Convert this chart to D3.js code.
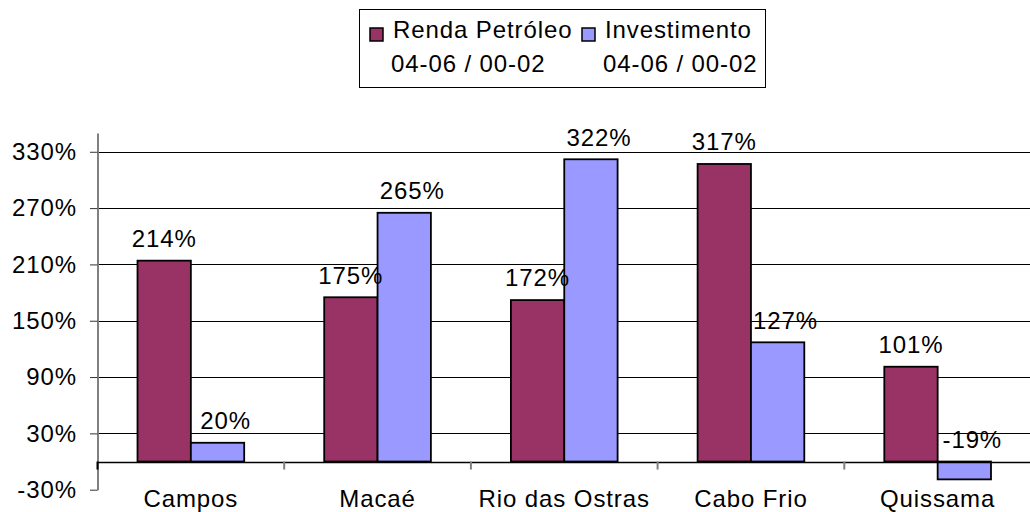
<!DOCTYPE html>
<html>
<head>
<meta charset="utf-8">
<script src="https://cdn.jsdelivr.net/npm/d3@7"></script>
<style>
  body { margin: 0; background: #fff; }
  svg { display: block; font-family: "Liberation Sans", Arial, sans-serif; }
  text { font-size: 24px; fill: #000; letter-spacing: 0.9px; }
</style>
</head>
<body>
<svg width="1030" height="512"></svg>
<script>
let cidades = ["Campos", "Macaé", "Rio das Ostras", "Cabo Frio", "Quissama"];
let rendaPetroleo = [214, 175, 172, 317, 101];
let investimento = [20, 265, 322, 127, -19];
let series = ["Renda Petróleo", "Investimento"];
let periodo = "04-06 / 00-02";
let yTicks = [-30, 30, 90, 150, 210, 270, 330];

let cores = ["#993366", "#9999FF"];

let svg = d3.select('svg');

let x = d3.scaleBand().domain(cidades).range([97.5, 1031]);
let y = d3.scaleLinear().domain([-30, 350]).range([489.7, 133]);

// bars: two per band, gap = 1.5 bar widths
let barW = x.bandwidth() / 3.5;
let xs = d3.scaleBand().domain([0, 1]).range([barW * 0.75, barW * 2.75]);

// gridlines
svg.append('g')
  .selectAll('line')
  .data(yTicks.filter(d => d > 0))
  .enter()
  .append('line')
  .attr('x1', 97.5)
  .attr('x2', 1030)
  .attr('y1', d => Math.round(y(d)) + 0.5)
  .attr('y2', d => Math.round(y(d)) + 0.5)
  .attr('stroke', '#000')
  .attr('stroke-width', 1);

// y axis
let yAxis = svg.append('g')
  .attr('transform', 'translate(97.5,0)')
  .call(d3.axisLeft(y).tickValues(yTicks).tickSize(7.5).tickSizeOuter(0).tickPadding(13).tickFormat(d => d + '%'));
yAxis.select('.domain').attr('stroke', '#808080').attr('stroke-width', 2);
yAxis.selectAll('.tick line').attr('stroke', '#333');
yAxis.selectAll('text').style('font-size', '24px').attr('fill', '#000');

let dados = cidades.map((c, i) => ({ cidade: c, valores: [rendaPetroleo[i], investimento[i]] }));

let grupos = svg.append('g')
  .selectAll('g')
  .data(dados)
  .enter()
  .append('g')
  .attr('transform', d => 'translate(' + x(d.cidade) + ',0)');

grupos.selectAll('rect')
  .data(d => d.valores)
  .enter()
  .append('rect')
  .attr('x', (d, i) => xs(i))
  .attr('width', xs.bandwidth())
  .attr('y', d => y(Math.max(0, d)))
  .attr('height', d => Math.abs(y(d) - y(0)))
  .attr('fill', (d, i) => cores[i])
  .attr('stroke', '#000')
  .attr('stroke-width', 1.8);

grupos.selectAll('text')
  .data(d => d.valores)
  .enter()
  .append('text')
  .attr('x', (d, i) => xs(i) + xs.bandwidth() / 2 + (i === 1 ? 8 : 0))
  .attr('y', d => y(Math.max(0, d)) - 22)
  .attr('dy', '0.35em')
  .attr('text-anchor', 'middle')
  .text(d => d + '%');

// category (zero) axis
svg.append('line')
  .attr('x1', 97.5)
  .attr('x2', 1030)
  .attr('y1', Math.round(y(0)) + 0.5)
  .attr('y2', Math.round(y(0)) + 0.5)
  .attr('stroke', '#000')
  .attr('stroke-width', 1.3);

svg.append('g')
  .selectAll('line')
  .data(cidades)
  .enter()
  .append('line')
  .attr('x1', d => x(d))
  .attr('x2', d => x(d))
  .attr('y1', y(0))
  .attr('y2', y(0) + 8)
  .attr('stroke', d => d === cidades[0] ? '#000' : '#808080')
  .attr('stroke-width', 2);

let xAxis = svg.append('g')
  .attr('transform', 'translate(0,' + y(-30) + ')')
  .call(d3.axisBottom(x).tickSize(0).tickPadding(0));
xAxis.select('.domain').remove();
xAxis.selectAll('text').style('font-size', '24px').attr('fill', '#000');

// legend
let legenda = svg.append('g');
legenda.append('rect')
  .attr('x', 359.5)
  .attr('y', 9.5)
  .attr('width', 406)
  .attr('height', 78)
  .attr('fill', '#fff')
  .attr('stroke', '#000');

let itens = legenda.selectAll('g.item')
  .data(series)
  .enter()
  .append('g')
  .attr('class', 'item')
  .attr('transform', (d, i) => 'translate(' + [370, 582][i] + ',0)');

itens.append('rect')
  .attr('x', 0)
  .attr('y', 28)
  .attr('width', 13)
  .attr('height', 13)
  .attr('fill', (d, i) => cores[i])
  .attr('stroke', '#000')
  .attr('stroke-width', 1.5);

itens.append('text')
  .attr('x', 23)
  .attr('y', 38)
  .text(d => d);

itens.append('text')
  .attr('x', 21)
  .attr('y', 72)
  .text(periodo);
</script>
</body>
</html>
